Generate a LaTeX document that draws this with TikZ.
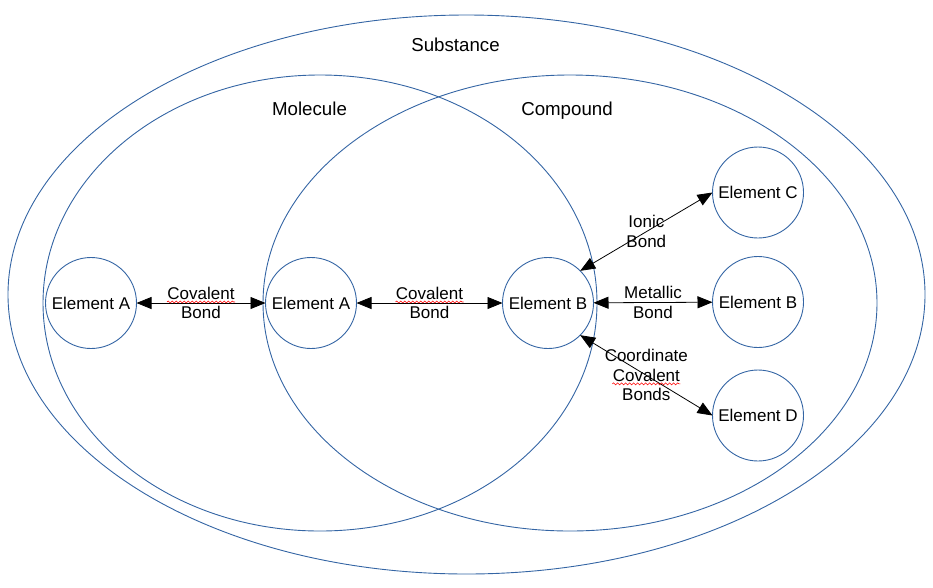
\documentclass[tikz,border=0pt]{standalone}
\usepackage{fontspec}
\setmainfont{Liberation Sans}
\usetikzlibrary{arrows.meta,decorations.pathmorphing}
\definecolor{vennblue}{HTML}{3465A4}

\begin{document}
\begin{tikzpicture}[x=1pt, y=-1pt, font=\fontsize{17}{19.5}\selectfont]
            \tikzstyle{set line}=[draw=vennblue, line width=0.9pt]
            \tikzstyle{set label}=[anchor=base, font=\fontsize{18.7}{22}\selectfont]
            \tikzstyle{element node}=[circle,draw=vennblue,line width=0.9pt,minimum size=91pt,inner sep=0pt,outer sep=0pt]
            \tikzstyle{bond}=[{Triangle[length=15pt,width=12pt]}-{Triangle[length=15pt,width=12pt]}, line width=0.8pt]
            \tikzstyle{bond label}=[align=center, inner sep=0pt]
            \tikzstyle{squiggle}=[red, line width=0.6pt, decorate, decoration={snake, segment length=4pt, amplitude=1pt}]

            \useasboundingbox (0,0) rectangle (933,587);

            % 集合
            \draw[set line] (466.5,294.5) ellipse [x radius=458.5, y radius=279.5];
            \draw[set line] (320,303) ellipse [x radius=277, y radius=228];
            \draw[set line] (570,303) ellipse [x radius=307, y radius=228];
            \node[set label] (substance) at (455.5,51) {Substance};
            \node[set label] (molecule) at (309.5,115) {Molecule};
            \node[set label] (compound) at (567,115) {Compound};

            % 元素
            \node[element node] (a1) at (91,303) {Element A};
            \node[element node] (a2) at (311,303) {Element A};
            \node[element node] (b1) at (548,303) {Element B};
            \node[element node] (c) at (758,192.5) {Element C};
            \node[element node] (b2) at (758,302) {Element B};
            \node[element node] (d) at (758,415.5) {Element D};

            % 化学键
            \draw[bond] (a1) -- node[bond label] (covL) {Covalent\\Bond} (a2);
            \draw[bond] (a2) -- node[bond label] (covM) {Covalent\\Bond} (b1);
            \draw[bond] (b1.north east) -- node[bond label] (ionic) {Ionic\\Bond} (c.west);
            \draw[bond] (b1) -- node[bond label] (metallic) {Metallic\\Bond} (b2);
            \draw[bond] (b1.south east) -- node[bond label] (coord) {Coordinate\\Covalent\\Bonds} (d.west);

            % 拼写检查波浪线
            \draw[squiggle] ([xshift=-34pt,yshift=1pt]covL.center) -- ([xshift=34pt,yshift=1pt]covL.center);
            \draw[squiggle] ([xshift=-34pt,yshift=1pt]covM.center) -- ([xshift=34pt,yshift=1pt]covM.center);
            \draw[squiggle] ([xshift=-34pt,yshift=-8.5pt]coord.center) -- ([xshift=34pt,yshift=-8.5pt]coord.center);
        \end{tikzpicture}
\end{document}
